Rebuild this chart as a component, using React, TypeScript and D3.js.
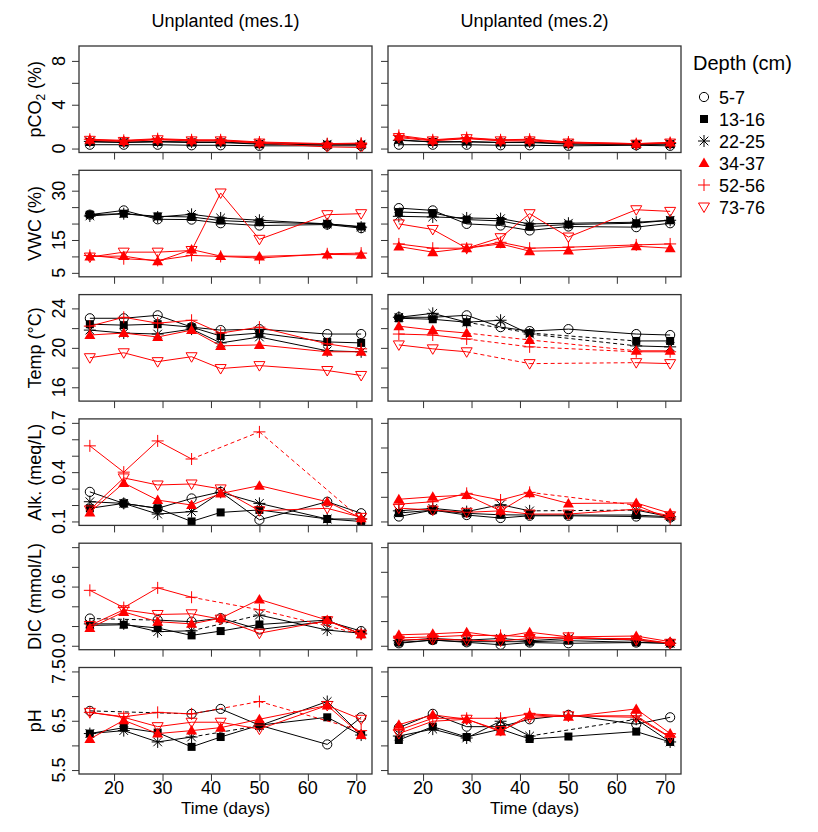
import React, { useEffect, useRef } from 'react';
import * as d3 from 'd3';

// sampling days
const days = [15, 22, 29, 36, 42, 50, 64, 71];
const xTicks = [20, 30, 40, 50, 60, 70];

const depths = ['5-7', '13-16', '22-25', '34-37', '52-56', '73-76'];
const depthColors = ['black', 'black', 'black', 'red', 'red', 'red'];
const depthShapes = ['circle', 'square', 'asterisk', 'triangle', 'plus', 'triangleDown'];
const columnTitles = ['Unplanted (mes.1)', 'Unplanted (mes.2)'];

// one array per depth, in the order of `depths`; null = not measured
const pco2Mes1 = [
  [0.35, 0.35, 0.35, 0.3, 0.3, 0.25, 0.25, 0.25],
  [0.6, 0.55, 0.6, 0.55, 0.55, 0.4, 0.35, 0.35],
  [0.65, 0.6, 0.65, 0.6, 0.6, 0.45, 0.4, 0.4],
  [0.8, 0.7, 0.85, 0.75, 0.75, 0.55, 0.4, 0.45],
  [0.85, 0.75, 0.9, 0.8, 0.8, 0.6, 0.45, 0.5],
  [0.75, 0.65, 0.8, 0.7, 0.7, 0.5, 0.15, 0.1],
];
const pco2Mes2 = [
  [0.35, 0.35, 0.35, 0.3, 0.3, 0.25, 0.3, 0.25],
  [0.8, 0.6, 0.65, 0.55, 0.55, 0.4, 0.4, 0.4],
  [0.75, 0.6, 0.6, 0.55, 0.6, 0.45, 0.35, 0.45],
  [1.1, 0.75, 0.95, 0.75, 0.8, 0.55, 0.45, 0.55],
  [1.2, 0.8, 1.0, 0.8, 0.85, 0.6, 0.45, 0.55],
  [1.0, 0.7, 0.9, 0.7, 0.7, 0.5, 0.4, 0.5],
];
const vwcMes1 = [
  [22.7, 24.0, 21.3, 21.2, 20.1, 19.4, 19.7, 18.6],
  [22.7, 23.0, 22.2, 22.0, 20.9, 20.4, 19.9, 19.1],
  [22.3, 23.0, 22.0, 22.8, 21.7, 21.0, 19.9, 18.9],
  [10.0, 10.1, 8.5, 12.1, 10.1, 10.0, 10.6, 10.5],
  [10.3, 9.3, 8.8, 10.3, 10.0, 9.5, 10.8, 11.0],
  [9.8, 11.3, 11.3, 11.8, 29.3, 15.2, 22.7, 23.0],
];
const vwcMes2 = [
  [24.7, 24.0, 19.9, 19.4, 17.9, 19.1, 18.9, 20.1],
  [23.5, 23.2, 21.2, 20.8, 19.1, 19.7, 20.1, 21.0],
  [22.2, 22.0, 21.7, 21.5, 19.9, 20.1, 20.4, 21.0],
  [13.0, 11.3, 12.5, 13.8, 11.6, 11.8, 13.1, 12.5],
  [13.8, 12.5, 12.5, 14.3, 12.5, 12.8, 13.5, 13.8],
  [19.9, 18.2, 12.5, 15.7, 23.0, 15.9, 24.2, 23.7],
];
const tempMes1 = [
  [23.0, 23.0, 23.3, 22.1, 21.8, 21.9, 21.4, 21.4],
  [22.4, 22.3, 22.4, 22.1, 21.2, 21.5, 20.6, 20.5],
  [21.8, 21.5, 21.4, 21.9, 20.5, 21.1, 19.7, 19.6],
  [21.3, 21.5, 21.1, 21.8, 20.2, 20.3, 19.6, 19.6],
  [22.2, 23.1, 22.5, 22.8, 21.5, 22.1, 20.4, 19.9],
  [19.0, 19.5, 18.6, 19.1, 17.9, 18.2, 17.7, 17.2],
];
const tempMes2 = [
  [23.1, 23.1, 23.3, 22.1, 21.7, 21.9, 21.4, 21.3],
  [23.0, 22.9, 22.6, null, 21.5, null, 20.7, 20.7],
  [23.1, 23.5, 22.6, 22.8, 21.4, null, 20.2, 20.1],
  [22.2, 21.8, 21.5, null, 20.8, null, 19.7, 19.7],
  [21.4, 21.3, 20.9, null, 20.1, null, 19.6, 19.6],
  [20.3, 19.9, 19.6, null, 18.4, null, 18.5, 18.4],
];
const alkMes1 = [
  [0.28, 0.21, 0.18, 0.24, 0.28, 0.11, 0.22, 0.15],
  [0.18, 0.21, 0.18, 0.1, 0.155, 0.17, 0.115, 0.1],
  [0.22, 0.21, 0.145, 0.16, 0.277, 0.21, 0.115, 0.115],
  [0.155, 0.334, 0.23, 0.2, 0.27, 0.318, 0.22, 0.12],
  [0.56, 0.4, 0.59, 0.48, null, 0.645, null, 0.115],
  [0.17, 0.365, 0.322, 0.328, 0.298, 0.165, 0.18, 0.125],
];
const alkMes2 = [
  [0.12, 0.146, 0.126, 0.114, 0.123, 0.123, 0.12, 0.116],
  [0.134, 0.146, 0.133, 0.127, 0.126, 0.126, 0.126, 0.119],
  [0.143, 0.153, 0.14, 0.168, 0.143, null, 0.146, 0.119],
  [0.19, 0.2, 0.207, 0.143, 0.214, 0.173, 0.175, 0.133],
  [0.17, 0.18, 0.214, 0.187, 0.218, null, 0.166, 0.11],
  [0.154, 0.146, 0.137, 0.143, 0.13, 0.13, 0.15, 0.123],
];
const dicMes1 = [
  [0.276, null, 0.26, 0.244, 0.28, 0.165, 0.248, 0.149],
  [0.206, 0.213, 0.18, 0.105, 0.149, 0.216, 0.26, 0.117],
  [0.222, 0.222, 0.143, 0.152, null, 0.311, 0.159, 0.127],
  [0.18, 0.343, 0.244, 0.222, 0.28, 0.47, 0.26, 0.117],
  [0.562, 0.387, 0.587, 0.492, null, 0.365, null, 0.117],
  [0.206, 0.365, 0.317, 0.324, 0.27, 0.127, 0.254, 0.117],
];
const dicMes2 = [
  [0.02, 0.046, 0.028, 0.008, 0.026, 0.02, 0.026, 0.02],
  [0.026, 0.046, 0.033, 0.033, 0.033, 0.041, 0.028, 0.02],
  [0.041, 0.059, 0.046, 0.059, 0.041, 0.059, 0.046, 0.02],
  [0.089, 0.097, 0.11, 0.072, 0.11, 0.072, 0.079, 0.033],
  [0.064, 0.072, 0.084, 0.084, 0.072, 0.059, 0.059, 0.02],
  [0.046, 0.054, 0.046, 0.038, 0.059, 0.072, 0.046, 0.02],
];
const phMes1 = [
  [6.7, null, null, 6.64, 6.74, 6.41, 6.02, 6.57],
  [6.24, 6.36, 6.26, 5.97, 6.17, 6.41, 6.57, 6.21],
  [6.24, 6.3, 6.07, 6.17, null, 6.4, 6.89, 6.21],
  [6.13, 6.51, 6.24, 6.3, 6.36, 6.53, 6.81, 6.21],
  [6.67, 6.58, 6.67, 6.64, null, 6.89, null, 6.3],
  [6.67, 6.57, 6.38, 6.47, 6.47, 6.33, 6.81, 6.53],
];
const phMes2 = [
  [6.36, 6.64, 6.38, 6.38, 6.53, 6.62, 6.43, 6.57],
  [6.11, 6.38, 6.17, 6.33, 6.13, 6.18, 6.28, 6.07],
  [6.19, 6.33, 6.15, 6.49, 6.19, null, 6.53, 6.07],
  [6.42, 6.62, 6.53, 6.28, 6.62, 6.58, 6.74, 6.24],
  [6.31, 6.55, 6.55, 6.55, 6.64, 6.6, 6.6, 6.17],
  [6.24, 6.49, 6.53, 6.3, 6.57, 6.6, 6.57, 6.16],
];

// y axis of each row: limits, ticks and the tick labels that are printed
const rowLabels = ['pCO2 (%)', 'VWC (%)', 'Temp (°C)', 'Alk. (meq/L)', 'DIC (mmol/L)', 'pH'];
const rowData = [
  [pco2Mes1, pco2Mes2],
  [vwcMes1, vwcMes2],
  [tempMes1, tempMes2],
  [alkMes1, alkMes2],
  [dicMes1, dicMes2],
  [phMes1, phMes2],
];
const rowLimits = [
  [[0, 9], [0, 9]],
  [[5, 35], [5, 35]],
  [[15, 25], [15, 25]],
  [[0.1, 0.7], [0.1, 0.5]],
  [[0, 1], [0, 0.8]],
  [[5.5, 7.5], [5.5, 7.5]],
];
const rowTicks = [
  [[0, 2, 4, 6, 8], [0, 2, 4, 6, 8]],
  [[5, 10, 15, 20, 25, 30, 35], [5, 10, 15, 20, 25, 30, 35]],
  [[16, 18, 20, 22, 24], [16, 18, 20, 22, 24]],
  [[0.1, 0.2, 0.3, 0.4, 0.5, 0.6, 0.7], [0.1, 0.2, 0.3, 0.4, 0.5]],
  [[0, 0.2, 0.4, 0.6, 0.8, 1.0], [0, 0.2, 0.4, 0.6, 0.8]],
  [[5.5, 6, 6.5, 7, 7.5], [5.5, 6, 6.5, 7, 7.5]],
];
const rowTickLabels = [
  [[0, '0'], [4, '4'], [8, '8']],
  [[5, '5'], [15, '15'], [30, '30']],
  [[16, '16'], [20, '20'], [24, '24']],
  [[0.1, '0.1'], [0.4, '0.4'], [0.7, '0.7']],
  [[0, '0.0'], [0.6, '0.6']],
  [[5.5, '5.5'], [6.5, '6.5'], [7.5, '7.5']],
];

const FONT = "'Liberation Sans', Arial, Helvetica, sans-serif";

const drawMarker = (g, shape, cx, cy, color) => {
  const s = 4.6;
  if (shape === 'circle') {
    g.append('circle').attr('cx', cx).attr('cy', cy).attr('r', s)
      .attr('fill', 'none').attr('stroke', color).attr('stroke-width', 1);
  } else if (shape === 'square') {
    g.append('rect').attr('x', cx - 4).attr('y', cy - 4).attr('width', 8).attr('height', 8)
      .attr('fill', color);
  } else if (shape === 'triangle') {
    g.append('path')
      .attr('d', `M${cx},${cy - 5.5}L${cx + 5.5},${cy + 4}L${cx - 5.5},${cy + 4}Z`)
      .attr('fill', color);
  } else if (shape === 'triangleDown') {
    g.append('path')
      .attr('d', `M${cx},${cy + 5.5}L${cx + 5.5},${cy - 4}L${cx - 5.5},${cy - 4}Z`)
      .attr('fill', 'none').attr('stroke', color).attr('stroke-width', 1);
  } else if (shape === 'plus') {
    g.append('path')
      .attr('d', `M${cx - 6},${cy}H${cx + 6}M${cx},${cy - 6}V${cy + 6}`)
      .attr('stroke', color).attr('stroke-width', 1);
  } else if (shape === 'asterisk') {
    const d = 4.3;
    g.append('path')
      .attr('d', `M${cx - 6},${cy}H${cx + 6}M${cx},${cy - 6}V${cy + 6}` +
        `M${cx - d},${cy - d}L${cx + d},${cy + d}M${cx - d},${cy + d}L${cx + d},${cy - d}`)
      .attr('stroke', color).attr('stroke-width', 1);
  }
};

const Chart = () => {
  const chartRef = useRef(null);

  useEffect(() => {
    // Panel layout: 6 rows x 2 columns
    const colLeft = [79, 388];
    const panelW = 293;
    const rowPitch = 124.3;
    const panelH = 106.5;
    const rowTop = rowData.map((_, r) => 46 + r * rowPitch);
    const rowBottom = rowTop.map(t => t + panelH);

    const svg = d3.select(chartRef.current);
    svg.selectAll('*').remove();

    // Column titles
    columnTitles.forEach((t, c) => {
      svg.append('text')
        .attr('x', colLeft[c] + panelW / 2)
        .attr('y', 27)
        .attr('text-anchor', 'middle')
        .attr('font-family', FONT)
        .attr('font-size', 18)
        .text(t);
    });

    rowData.forEach((panels, r) => {
      panels.forEach((series, c) => {
        const x = d3.scaleLinear()
          .domain([15 - 56 * 0.04, 71 + 56 * 0.04])
          .range([colLeft[c], colLeft[c] + panelW]);
        const [lo, hi] = rowLimits[r][c];
        const pad = (hi - lo) * 0.04;
        const y = d3.scaleLinear()
          .domain([lo - pad, hi + pad])
          .range([rowBottom[r], rowTop[r]]);

        const g = svg.append('g');

        // Y axis ticks
        g.append('g')
          .attr('transform', `translate(${colLeft[c]},0)`)
          .call(d3.axisLeft(y).tickValues(rowTicks[r][c]).tickSize(7).tickFormat(() => ''))
          .call(a => a.select('.domain').remove())
          .call(a => a.selectAll('line').attr('stroke', '#333'));

        // X axis ticks
        g.append('g')
          .attr('transform', `translate(0,${rowBottom[r]})`)
          .call(d3.axisBottom(x).tickValues(xTicks).tickSize(7).tickFormat(() => ''))
          .call(a => a.select('.domain').remove())
          .call(a => a.selectAll('line').attr('stroke', '#333'));

        // Y tick labels and title on the left column only
        if (c === 0) {
          rowTickLabels[r].forEach(([v, lab]) => {
            g.append('text')
              .attr('transform', `translate(${colLeft[c] - 14},${y(v)}) rotate(-90)`)
              .attr('text-anchor', 'middle')
              .attr('font-family', FONT)
              .attr('font-size', 18)
              .text(lab);
          });
          const title = g.append('text')
            .attr('transform', `translate(41,${(rowTop[r] + rowBottom[r]) / 2}) rotate(-90)`)
            .attr('text-anchor', 'middle')
            .attr('font-family', FONT)
            .attr('font-size', 18);
          if (r === 0) {
            title.append('tspan').text('pCO');
            title.append('tspan').attr('font-size', 12).attr('dy', 4).text('2');
            title.append('tspan').attr('dy', -4).text(' (%)');
          } else {
            title.text(rowLabels[r]);
          }
        }

        // X tick labels on the bottom row
        if (r === rowData.length - 1) {
          xTicks.forEach(t => {
            g.append('text')
              .attr('x', x(t))
              .attr('y', rowBottom[r] + 20)
              .attr('text-anchor', 'middle')
              .attr('font-family', FONT)
              .attr('font-size', 18)
              .text(t);
          });
          g.append('text')
            .attr('x', colLeft[c] + panelW / 2)
            .attr('y', rowBottom[r] + 40)
            .attr('text-anchor', 'middle')
            .attr('font-family', FONT)
            .attr('font-size', 17)
            .text('Time (days)');
        }

        // Series: solid between consecutive samples, dashed across gaps
        series.forEach((vals, s) => {
          const pts = vals
            .map((v, i) => ({ i, d: days[i], v }))
            .filter(p => p.v !== null);
          for (let k = 1; k < pts.length; k++) {
            const a = pts[k - 1];
            const b = pts[k];
            g.append('line')
              .attr('x1', x(a.d)).attr('y1', y(a.v))
              .attr('x2', x(b.d)).attr('y2', y(b.v))
              .attr('stroke', depthColors[s])
              .attr('stroke-width', 1)
              .attr('stroke-dasharray', b.i - a.i > 1 ? '4,3' : null);
          }
          pts.forEach(p => drawMarker(g, depthShapes[s], x(p.d), y(p.v), depthColors[s]));
        });

        // Frame
        g.append('rect')
          .attr('x', colLeft[c])
          .attr('y', rowTop[r])
          .attr('width', panelW)
          .attr('height', panelH)
          .attr('fill', 'none')
          .attr('stroke', '#333')
          .attr('stroke-width', 1.3);
      });
    });

    // Legend
    const legend = svg.append('g').attr('transform', 'translate(693,0)');
    legend.append('text')
      .attr('x', 0)
      .attr('y', 70)
      .attr('font-family', FONT)
      .attr('font-size', 20)
      .text('Depth (cm)');
    depths.forEach((d, i) => {
      const cy = 97 + i * 22;
      drawMarker(legend, depthShapes[i], 11, cy, depthColors[i]);
      legend.append('text')
        .attr('x', 26)
        .attr('y', cy + 6.5)
        .attr('font-family', FONT)
        .attr('font-size', 18)
        .text(d);
    });
  }, []);

  return (
    <svg
      ref={chartRef}
      width={818}
      height={832}
      style={{ position: 'absolute', left: 0, top: 0, background: 'white' }}
    />
  );
};

export default function App() {
  return <Chart />;
}
